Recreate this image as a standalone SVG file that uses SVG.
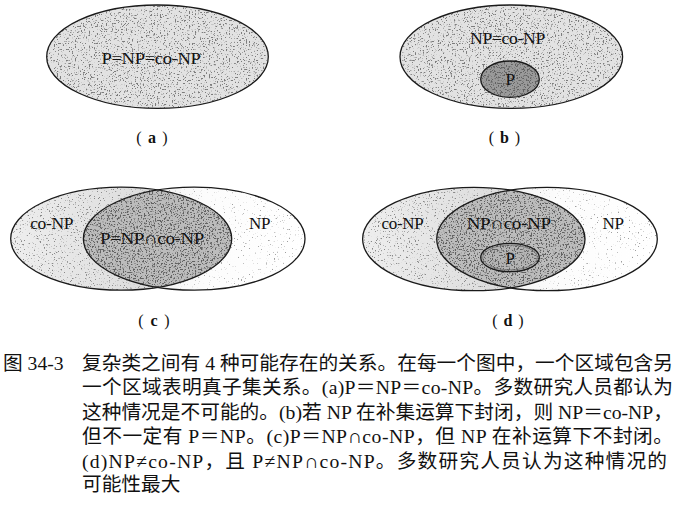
<svg xmlns="http://www.w3.org/2000/svg" width="675" height="506" viewBox="0 0 675 506">
<style>
  .outline { fill: none; stroke: #1a1a1a; stroke-width: 1.3; }
  .lbl { font-family: "Liberation Serif", "DejaVu Serif", serif; font-size: 17px; fill: #111; text-anchor: middle; letter-spacing: -0.3px; }
  .sub { font-family: "Liberation Serif", serif; font-size: 16px; fill: #111; text-anchor: middle; }
  .subl { font-family: "Liberation Serif", serif; font-size: 16px; font-weight: bold; fill: #111; text-anchor: middle; }
  .cap { font-family: "Liberation Serif", "Noto Sans CJK SC", serif; font-size: 19.7px; fill: #111; }
</style>
<defs>
  <filter id="grainMed" x="-5%" y="-5%" width="110%" height="110%">
    <feTurbulence type="fractalNoise" baseFrequency="0.65" numOctaves="2" seed="4" result="t"/>
    <feColorMatrix in="t" type="matrix" values="0 0 0 0 0.2  0 0 0 0 0.2  0 0 0 0 0.2  -9 0 0 0 3.75" result="sp"/>
    <feComposite in="sp" in2="SourceAlpha" operator="in" result="spc"/>
    <feMerge><feMergeNode in="SourceGraphic"/><feMergeNode in="spc"/></feMerge>
  </filter>
  <filter id="grainLight" x="-5%" y="-5%" width="110%" height="110%">
    <feTurbulence type="fractalNoise" baseFrequency="0.65" numOctaves="2" seed="7" result="t"/>
    <feColorMatrix in="t" type="matrix" values="0 0 0 0 0.25  0 0 0 0 0.25  0 0 0 0 0.25  -9 0 0 0 3.4" result="sp"/>
    <feComposite in="sp" in2="SourceAlpha" operator="in" result="spc"/>
    <feMerge><feMergeNode in="SourceGraphic"/><feMergeNode in="spc"/></feMerge>
  </filter>
  <filter id="grainFaint" x="-5%" y="-5%" width="110%" height="110%">
    <feTurbulence type="fractalNoise" baseFrequency="0.65" numOctaves="2" seed="9" result="t"/>
    <feColorMatrix in="t" type="matrix" values="0 0 0 0 0.35  0 0 0 0 0.35  0 0 0 0 0.35  -9 0 0 0 2.9" result="sp"/>
    <feComposite in="sp" in2="SourceAlpha" operator="in" result="spc"/>
    <feMerge><feMergeNode in="SourceGraphic"/><feMergeNode in="spc"/></feMerge>
  </filter>
  <filter id="grainDark" x="-5%" y="-5%" width="110%" height="110%">
    <feTurbulence type="fractalNoise" baseFrequency="0.65" numOctaves="2" seed="2" result="t"/>
    <feColorMatrix in="t" type="matrix" values="0 0 0 0 0.12  0 0 0 0 0.12  0 0 0 0 0.12  -9 0 0 0 4.2" result="sp"/>
    <feComposite in="sp" in2="SourceAlpha" operator="in" result="spc"/>
    <feMerge><feMergeNode in="SourceGraphic"/><feMergeNode in="spc"/></feMerge>
  </filter>
  <linearGradient id="conpC" x1="0" y1="0" x2="1" y2="0">
    <stop offset="0" stop-color="#eeeeee"/>
    <stop offset="1" stop-color="#d2d2d2"/>
  </linearGradient>
  <linearGradient id="npC" x1="0" y1="0" x2="1" y2="0">
    <stop offset="0" stop-color="#e6e6e6"/>
    <stop offset="0.55" stop-color="#fcfcfc"/>
    <stop offset="1" stop-color="#ffffff"/>
  </linearGradient>
  <clipPath id="clipC"><ellipse cx="121.2" cy="238.7" rx="110.5" ry="51.5"/></clipPath>
  <clipPath id="clipD"><ellipse cx="473.8" cy="239" rx="111.2" ry="51.7"/></clipPath>
</defs>

<rect width="675" height="506" fill="#ffffff"/>

<!-- (a) -->
<g id="a-all">
  <ellipse cx="157.5" cy="56.7" rx="110.8" ry="51.7" fill="#e2e2e2" filter="url(#grainMed)"/>
  <ellipse class="outline" cx="157.5" cy="56.7" rx="110.8" ry="51.7"/>
  <text class="lbl" x="151" y="63.5" textLength="99" lengthAdjust="spacingAndGlyphs">P=NP=co-NP</text>
</g>
<g id="label-a">
  <text class="sub" x="139" y="143">(</text><text class="subl" x="152" y="143">a</text><text class="sub" x="165" y="143">)</text>
</g>

<!-- (b) -->
<g id="b-np">
  <ellipse cx="511.3" cy="56.7" rx="111.3" ry="51.7" fill="#e2e2e2" filter="url(#grainMed)"/>
  <ellipse class="outline" cx="511.3" cy="56.7" rx="111.3" ry="51.7"/>
  <text class="lbl" x="507.5" y="43.5" textLength="75" lengthAdjust="spacingAndGlyphs">NP=co-NP</text>
</g>
<g id="b-p">
  <ellipse cx="510" cy="79.2" rx="29.3" ry="18.2" fill="#9a9a9a" filter="url(#grainDark)"/>
  <ellipse class="outline" cx="510" cy="79.2" rx="29.3" ry="18.2"/>
  <text class="lbl" x="510" y="85" font-size="15">P</text>
</g>
<g id="label-b">
  <text class="sub" x="491.5" y="143">(</text><text class="subl" x="504.5" y="143">b</text><text class="sub" x="517.5" y="143">)</text>
</g>

<!-- (c) -->
<g id="c-np">
  <ellipse cx="194.2" cy="238.7" rx="110.8" ry="51.5" fill="url(#npC)" filter="url(#grainFaint)"/>
</g>
<g id="c-conp">
  <ellipse cx="121.2" cy="238.7" rx="110.5" ry="51.5" fill="url(#conpC)" filter="url(#grainLight)"/>
</g>
<g id="c-p">
  <ellipse cx="194.2" cy="238.7" rx="110.8" ry="51.5" fill="#bcbcbc" filter="url(#grainDark)" clip-path="url(#clipC)"/>
</g>
<g id="c-outlines">
  <ellipse class="outline" cx="121.2" cy="238.7" rx="110.5" ry="51.5"/>
  <ellipse class="outline" cx="194.2" cy="238.7" rx="110.8" ry="51.5"/>
  <text class="lbl" x="51.7" y="229.3" textLength="43" lengthAdjust="spacingAndGlyphs">co-NP</text>
  <text class="lbl" x="259.5" y="229.3">NP</text>
  <text class="lbl" x="152" y="243.5" textLength="104" lengthAdjust="spacingAndGlyphs">P=NP∩co-NP</text>
</g>
<g id="label-c">
  <text class="sub" x="141" y="326">(</text><text class="subl" x="154" y="326">c</text><text class="sub" x="167" y="326">)</text>
</g>

<!-- (d) -->
<g id="d-np">
  <ellipse cx="547" cy="239" rx="110.3" ry="51.7" fill="url(#npC)" filter="url(#grainFaint)"/>
</g>
<g id="d-conp">
  <ellipse cx="473.8" cy="239" rx="111.2" ry="51.7" fill="url(#conpC)" filter="url(#grainLight)"/>
</g>
<g id="d-intersection">
  <ellipse cx="547" cy="239" rx="110.3" ry="51.7" fill="#bcbcbc" filter="url(#grainDark)" clip-path="url(#clipD)"/>
</g>
<g id="d-p">
  <ellipse cx="510" cy="257.5" rx="29.3" ry="14.2" fill="#b4b4b4" filter="url(#grainDark)"/>
  <ellipse class="outline" cx="510" cy="257.5" rx="29.3" ry="14.2"/>
  <ellipse cx="510" cy="257.5" rx="27.3" ry="12.4" fill="none" stroke="#555" stroke-width="0.6"/>
  <text class="lbl" x="510" y="264" font-size="16">P</text>
</g>
<g id="d-outlines">
  <ellipse class="outline" cx="473.8" cy="239" rx="111.2" ry="51.7"/>
  <ellipse class="outline" cx="547" cy="239" rx="110.3" ry="51.7"/>
  <text class="lbl" x="402.5" y="228.5" textLength="42" lengthAdjust="spacingAndGlyphs">co-NP</text>
  <text class="lbl" x="508.7" y="228.5" textLength="84" lengthAdjust="spacingAndGlyphs">NP∩co-NP</text>
  <text class="lbl" x="613" y="228.5">NP</text>
</g>
<g id="label-d">
  <text class="sub" x="495" y="326">(</text><text class="subl" x="508" y="326">d</text><text class="sub" x="521" y="326">)</text>
</g>

<g id="connectors"></g>

<!-- caption -->
<g id="caption">
  <text class="cap" x="3" y="369.5">图 34-3</text>
  <text class="cap" x="82" y="369.5" textLength="591" lengthAdjust="spacing">复杂类之间有 4 种可能存在的关系。在每一个图中，一个区域包含另</text>
  <text class="cap" x="82" y="394" textLength="591" lengthAdjust="spacing">一个区域表明真子集关系。(a)P＝NP＝co-NP。多数研究人员都认为</text>
  <text class="cap" x="82" y="418.5" textLength="591" lengthAdjust="spacing">这种情况是不可能的。(b)若 NP 在补集运算下封闭，则 NP＝co-NP，</text>
  <text class="cap" x="82" y="443" textLength="591" lengthAdjust="spacing">但不一定有 P＝NP。(c)P＝NP∩co-NP，但 NP 在补运算下不封闭。</text>
  <text class="cap" x="82" y="467.5" textLength="585" lengthAdjust="spacing">(d)NP≠co-NP，且 P≠NP∩co-NP。多数研究人员认为这种情况的</text>
  <text class="cap" x="82" y="491" font-size="19.3">可能性最大</text>
</g>
</svg>
